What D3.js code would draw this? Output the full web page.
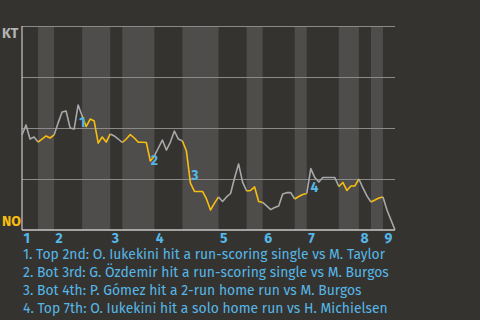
<!DOCTYPE html>
<html>
<head>
<meta charset="utf-8">
<script src="https://cdn.jsdelivr.net/npm/d3@7"></script>
<style>
html,body{margin:0;padding:0;background:#35332f;}
svg{display:block;}
</style>
</head>
<body>
<svg id="chart" width="480" height="320"></svg>
<script>
// ---- data ----
const teams = ["KT", "NO"];
const innings = ["1","2","3","4","5","6","7","8","9"];
// plays in each half-inning (Top 1, Bot 1, Top 2, ...)
const halfInningPlays = [4,4,7,7,3,8,7,9,7,4,8,3,8,5,3,3,3];
// KT win probability (%) after each play
const winProbKT = [
  46.6,51.5,44.6,45.6,43.1,44.6,46.1,45.1,46.6,52.5,
  57.8,58.3,50.0,49.5,61.3,55.9,50.7,54.4,53.4,42.6,
  45.6,43.1,47.1,46.1,44.6,42.9,44.6,46.8,45.1,43.0,
  43.0,42.9,33.8,36.3,40.2,44.1,39.2,43.1,48.5,44.6,
  43.6,38.7,23.0,18.9,18.9,18.9,15.2,9.8,13.2,16.2,
  14.0,16.2,17.9,25.5,32.4,23.5,19.1,19.4,21.1,14.0,
  13.5,11.8,10.0,11.0,11.8,17.6,18.3,18.3,15.2,16.4,
  17.4,17.9,30.1,25.7,23.5,25.7,25.7,25.7,25.7,21.3,
  23.3,19.4,21.6,21.6,25.0,20.6,16.7,13.7,14.7,15.7,
  16.2,9.8,4.9,0
];
const yTicks = [0,25,50,75,100];
const eventMarkers = ["1","2","3","4"];
const eventPlay = [15, 33, 43.1, 72.9];
const eventLabelPct = [52.5, 34.3, 26.7, 20.6];
const eventTexts = [
  "1. Top 2nd: O. Iukekini hit a run-scoring single vs M. Taylor",
  "2. Bot 3rd: G. Özdemir hit a run-scoring single vs M. Burgos",
  "3. Bot 4th: P. Gómez hit a 2-run home run vs M. Burgos",
  "4. Top 7th: O. Iukekini hit a solo home run vs H. Michielsen"
];

// ---- layout ----
const C = {
  bg: "#35332f", band: "#4e4d4b", grid: "#8a8a88", axis: "#c8c8c8",
  gray: "#a6a9ab", yellow: "#f7bd0f", blue: "#55b7e8", kt: "#b4b4b4"
};
const font = "'Fira Sans','Open Sans',sans-serif";
const svg = d3.select("#chart");
svg.append("rect").attr("width",480).attr("height",320).attr("fill",C.bg);

const totalPlays = d3.sum(halfInningPlays);
const x = d3.scaleLinear().domain([0,totalPlays]).range([22,395]);
const y = d3.scaleLinear().domain([0,100]).range([230,26]);

// half-inning boundaries
const bounds = [0];
halfInningPlays.forEach(n => bounds.push(bounds[bounds.length-1]+n));
const halves = halfInningPlays.map((n,i)=>({i, start:bounds[i], end:bounds[i+1]}));

// bands for bottom halves
svg.append("g").selectAll("rect").data(halves.filter(h=>h.i%2===1)).join("rect")
  .attr("x", d=>x(d.start)).attr("width", d=>x(d.end)-x(d.start))
  .attr("y", y(100)).attr("height", y(0)-y(100))
  .attr("fill", C.band);

// gridlines
svg.append("g").selectAll("line").data(yTicks.filter(t=>t>0)).join("line")
  .attr("x1", x(0)).attr("x2", x(totalPlays))
  .attr("y1", d=>y(d)).attr("y2", d=>y(d))
  .attr("stroke", C.grid).attr("stroke-width",1).attr("shape-rendering","crispEdges");

// axes lines
svg.append("line").attr("x1",x(0)).attr("x2",x(0)).attr("y1",y(100)).attr("y2",y(0))
  .attr("stroke",C.axis).attr("stroke-width",1.2);
svg.append("line").attr("x1",x(0)).attr("x2",x(totalPlays)).attr("y1",y(0)).attr("y2",y(0))
  .attr("stroke",C.axis).attr("stroke-width",1.5);

// win prob line, per half-inning
const line = d3.line().x(d=>x(d.i)).y(d=>y(d.v));
const pts = winProbKT.map((v,i)=>({i,v}));
const lg = svg.append("g").attr("fill","none").attr("stroke-width",1.6).attr("stroke-linejoin","round");
halves.forEach(h=>{
  lg.append("path").datum(pts.slice(h.start, h.end+1))
    .attr("d", line)
    .attr("stroke", h.i%2===1 ? C.yellow : C.gray);
});

// team labels
svg.append("text").attr("x",2).attr("y",y(100)+12).text(teams[0])
  .attr("font-family",font).attr("font-weight","bold").attr("font-size",14).attr("fill",C.kt);
svg.append("text").attr("x",2).attr("y",y(0)-4).text(teams[1])
  .attr("font-family",font).attr("font-weight","bold").attr("font-size",14).attr("fill",C.yellow);

// inning labels
svg.append("g").selectAll("text").data(innings).join("text")
  .attr("x",(d,i)=>x(bounds[i*2])+1.5).attr("y",243)
  .attr("font-family",font).attr("font-weight","bold").attr("font-size",14).attr("fill",C.blue)
  .text(d=>d);

// event markers
svg.append("g").selectAll("text").data(eventMarkers).join("text")
  .attr("x",(d,i)=>x(eventPlay[i])).attr("y",(d,i)=>y(eventLabelPct[i]))
  .attr("text-anchor","middle").attr("dominant-baseline","central")
  .attr("font-family",font).attr("font-weight","bold").attr("font-size",14).attr("fill",C.blue)
  .text(d=>d);

// event list
svg.append("g").selectAll("text").data(eventTexts).join("text")
  .attr("x",23).attr("y",(d,i)=>259+i*18)
  .attr("font-family",font).attr("font-size",13.9).attr("fill",C.blue)
  .text(d=>d);
</script>
</body>
</html>
